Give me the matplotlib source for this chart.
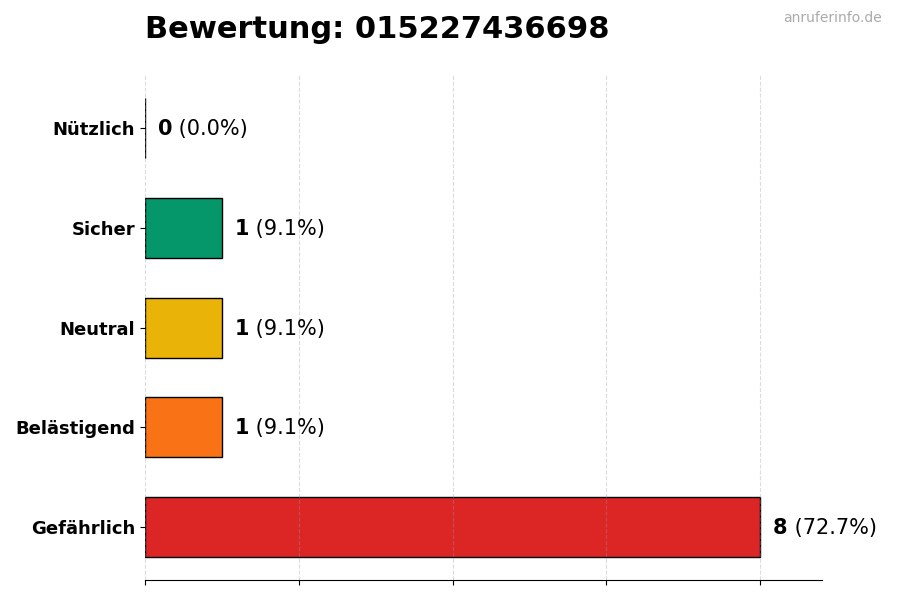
import matplotlib
matplotlib.use("Agg")
import matplotlib.pyplot as plt

categories = ["Gefährlich", "Belästigend", "Neutral", "Sicher", "Nützlich"]
counts = [8, 1, 1, 1, 0]
colors = ["#dc2626", "#f97316", "#eab308", "#059669", "#10b981"]
title = "Bewertung: 015227436698"

total = sum(counts)

fig = plt.figure(figsize=(9, 6), dpi=100)
ax = fig.add_axes([0.161, 0.033, 0.752, 0.842])

ypos = range(len(categories))
ax.barh(ypos, counts, height=0.6, color=colors, edgecolor="black",
        linewidth=1, zorder=2)
ax.set_yticks(list(ypos))
ax.set_yticklabels(categories, fontsize=13, fontweight="bold")
ax.set_xlim(0, max(counts) * 1.1)
ax.set_xticks([0, 2, 4, 6, 8])
ax.set_xticklabels([])
ax.grid(axis="x", linestyle="--", color="#999999", alpha=0.35,
        linewidth=0.8, zorder=3)
ax.set_axisbelow(False)

for s in ["top", "right", "left"]:
    ax.spines[s].set_visible(False)

for i, c in enumerate(counts):
    pct = c / total * 100
    t = ax.text(c + 0.17, i - 0.01, str(c), fontsize=15, fontweight="bold",
                va="center", ha="left")
    ax.annotate(" (%.1f%%)" % pct, xy=(1, 0), xycoords=t,
                va="bottom", ha="left", fontsize=15)

fig.text(0.161, 0.95, title, fontsize=22, fontweight="bold", ha="left", va="center")
fig.text(0.98, 0.97, "anruferinfo.de", fontsize=10, color="#aaaaaa",
         ha="right", va="center")

fig.savefig("out.png", dpi=100)
